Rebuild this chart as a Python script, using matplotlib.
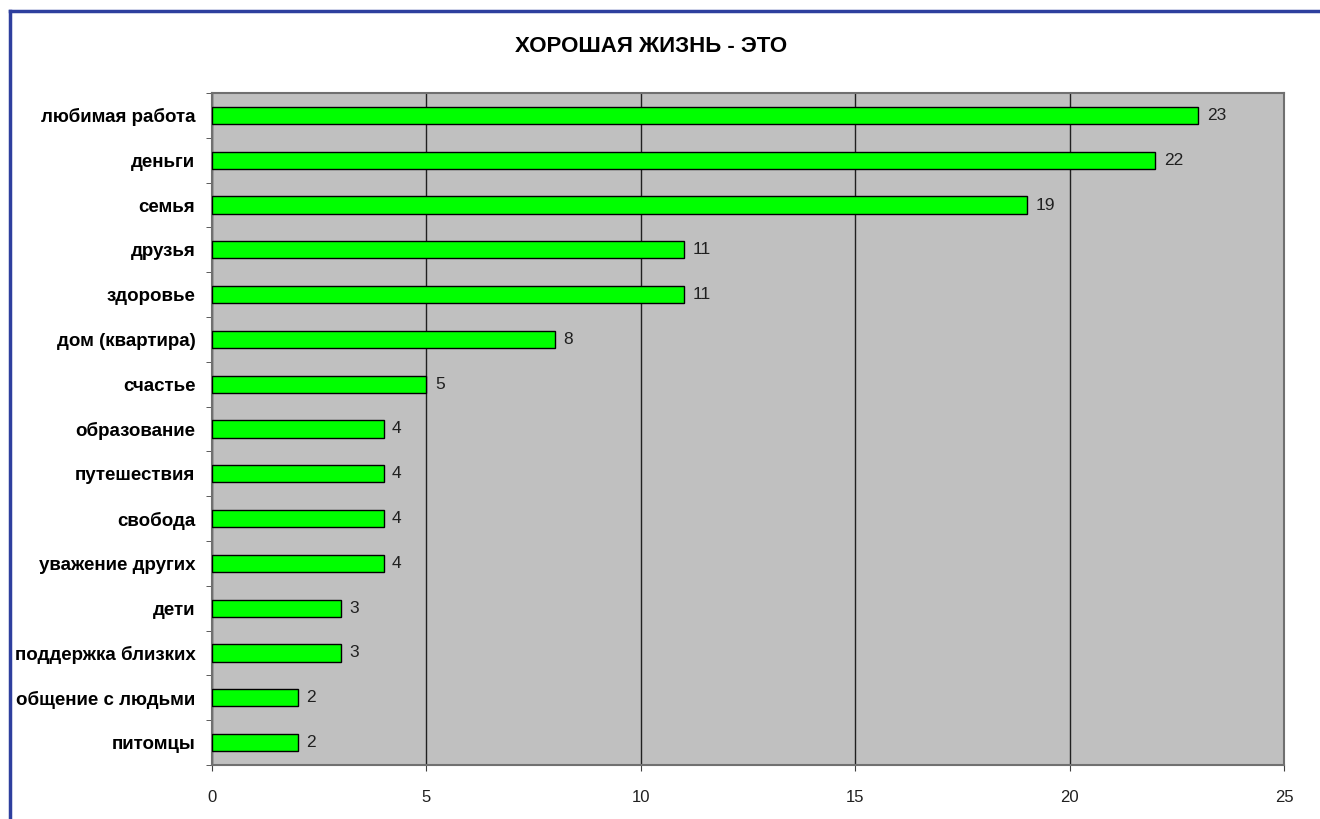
import matplotlib
matplotlib.use("Agg")
import matplotlib.pyplot as plt
from matplotlib.lines import Line2D
import numpy as np

plt.rcParams['font.family'] = ['Liberation Sans', 'DejaVu Sans']

categories = ["любимая работа", "деньги", "семья", "друзья", "здоровье",
              "дом (квартира)", "счастье", "образование", "путешествия",
              "свобода", "уважение других", "дети", "поддержка близких",
              "общение с людьми", "питомцы"]
values = [23, 22, 19, 11, 11, 8, 5, 4, 4, 4, 4, 3, 3, 2, 2]
xticks = [0, 5, 10, 15, 20, 25]
title = "ХОРОШАЯ ЖИЗНЬ - ЭТО"

fig = plt.figure(figsize=(13.2, 8.19), dpi=100)
fig.patch.set_facecolor('white')
ax = fig.add_axes([212/1320, 1-765/819, (1284-212)/1320, (765-93)/819])
ax.set_facecolor('#C0C0C0')

n = len(categories)
ypos = np.arange(n)
ax.barh(ypos, values, height=0.38, color='#00FF00', edgecolor='black',
        linewidth=1, zorder=3)
for y, v in zip(ypos, values):
    ax.text(v + 0.2, y, str(v), va='center', ha='left', fontsize=12.5,
            color='#202020', zorder=4)

ax.set_xlim(0, 25)
ax.set_ylim(n - 0.5, -0.5)
ax.set_xticks(xticks)
ax.set_xticklabels([str(t) for t in xticks], fontsize=12, color='#202020')
ax.set_yticks(ypos)
ax.set_yticklabels(categories, fontsize=13.5, fontweight='bold')
ax.tick_params(axis='y', length=0, pad=12)
ax.set_yticks(np.arange(-0.5, n, 1), minor=True)
ax.tick_params(axis='y', which='minor', length=4, direction='out', color='#404040')
ax.tick_params(axis='x', length=4, direction='out', pad=14, color='#404040')
ax.grid(axis='x', color='#202020', linewidth=1, zorder=1)
for s in ax.spines.values():
    s.set_color('#707070')
    s.set_linewidth(1.5)
    s.set_linestyle((0, (1, 1)))

fig.text(651/1320, 1-46/819, title, ha='center', va='center',
         fontsize=16, fontweight='bold')

# window frame border
fig.add_artist(Line2D([9.5/1320, 9.5/1320], [0, 1-11/819], transform=fig.transFigure,
                      color='#2E3F9E', linewidth=2.5))
fig.add_artist(Line2D([9.5/1320, 1], [1-11/819, 1-11/819], transform=fig.transFigure,
                      color='#2E3F9E', linewidth=2.5))

fig.savefig('out.png', dpi=100, facecolor='white')
